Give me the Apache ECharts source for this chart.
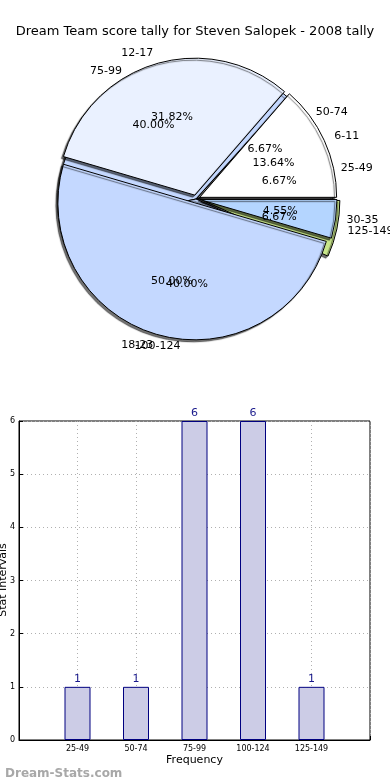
<!DOCTYPE html>
<html><head><meta charset="utf-8">
<script src="https://cdn.jsdelivr.net/npm/echarts@6/dist/echarts.min.js"></script>
<style>html,body{margin:0;padding:0;background:#fff}#c{width:390px;height:780px}</style>
</head><body><div id="c"></div>
<script>
const titleText = 'Dream Team score tally for Steven Salopek - 2008 tally';
const pieCatsA = ['6-11', '12-17', '18-23', '30-35'];
const pieValsA = [3, 7, 11, 1];
const pieCatsB = ['25-49', '50-74', '75-99', '100-124', '125-149'];
const pieValsB = [1, 1, 6, 6, 1];
const barCats = ['25-49', '50-74', '75-99', '100-124', '125-149'];
const barVals = [1, 1, 6, 6, 1];
const yTicks = [0, 1, 2, 3, 4, 5, 6];
const yName = 'Stat Intervals';
const xName = 'Frequency';

const colorsA = ['#ffffff', '#eaf1ff', '#c4d8ff', '#b4d5ff'];
const colorsB = ['#ffffff', '#ffffff', '#c4d8ff', '#c4d8ff', '#c8e68a'];
const FONT = 'DejaVu Sans';
const CX = 196, CY = 199, R = 137;

function pieData(cats, vals, colors, selIdx) {
  return cats.map((c, i) => ({
    name: c, value: vals[i], selected: selIdx.indexOf(i) >= 0,
    itemStyle: { color: colors[i] }
  }));
}
const shadow = { borderColor: '#000', borderWidth: 1, shadowColor: 'rgba(0,0,0,0.55)', shadowBlur: 1, shadowOffsetX: -2, shadowOffsetY: 2 };
function nameSeries(cats, vals, colors, sel, off) {
  return {
    type: 'pie', center: [CX, CY], radius: [0, R], startAngle: 0, clockwise: false,
    selectedMode: 'multiple', selectedOffset: off, avoidLabelOverlap: false, silent: true,
    data: pieData(cats, vals, colors, sel),
    itemStyle: shadow,
    label: { show: true, position: 'outside', formatter: '{b}', fontFamily: FONT, fontSize: 11, color: '#000', distanceToLabelLine: 0 },
    labelLine: { show: false, length: 11, length2: 0 },
    labelLayout: { hideOverlap: false },
    emphasis: { disabled: true }
  };
}
function pctSeries(cats, vals) {
  const total = vals.reduce((a, b) => a + b, 0);
  return {
    type: 'pie', center: [CX, CY], radius: [0, R * 1.2], startAngle: 0, clockwise: false,
    avoidLabelOverlap: false, silent: true,
    data: cats.map((c, i) => ({ name: c, value: vals[i] })),
    itemStyle: { color: 'rgba(0,0,0,0)', borderWidth: 0 },
    label: { show: true, position: 'inside', fontFamily: FONT, fontSize: 11, color: '#000',
      formatter: p => (p.value / total * 100).toFixed(2) + '%' },
    labelLine: { show: false },
    labelLayout: { hideOverlap: false },
    emphasis: { disabled: true }
  };
}

const chart = echarts.init(document.getElementById('c'), null, { renderer: 'canvas' });
chart.setOption({
  animation: false,
  backgroundColor: '#fff',
  title: [
    { text: titleText, left: 'center', top: 20, textStyle: { fontFamily: FONT, fontSize: 13, fontWeight: 'normal', color: '#000' } },
    { text: 'Dream-Stats.com', left: 0, top: 763, textStyle: { fontFamily: FONT, fontSize: 12, fontWeight: 'bold', color: '#a8a8a8' } }
  ],
  graphic: [{
    type: 'text', x: 3, y: 580, rotation: Math.PI / 2, silent: true,
    style: { text: yName, font: '11px "DejaVu Sans"', fill: '#000', align: 'center', verticalAlign: 'middle' }
  }],
  grid: { left: 19, right: 20, top: 421, bottom: 40, containLabel: false, outerBoundsMode: 'none',
    show: true, borderColor: '#000', borderWidth: 1, backgroundColor: 'transparent' },
  xAxis: {
    type: 'value', min: 0, max: 6, interval: 1,
    name: xName, nameLocation: 'middle', nameGap: 15, nameMoveOverlap: false,
    nameTextStyle: { fontFamily: FONT, fontSize: 11, color: '#000' },
    axisLine: { show: true, lineStyle: { color: '#000' } },
    axisTick: { show: true, inside: true, length: 4, lineStyle: { color: '#000' } },
    axisLabel: { fontFamily: FONT, fontSize: 8, color: '#000', margin: 5,
      formatter: v => (v >= 1 && v <= barCats.length) ? barCats[v - 1] : '' },
    splitLine: { show: true, lineStyle: { color: '#b0b0b0', type: [1, 3] } }
  },
  yAxis: {
    type: 'value', min: yTicks[0], max: yTicks[yTicks.length - 1], interval: 1,
    axisLine: { show: true, lineStyle: { color: '#000' } },
    axisTick: { show: true, inside: true, length: 4, lineStyle: { color: '#000' } },
    axisLabel: { fontFamily: FONT, fontSize: 8, color: '#000', margin: 4 },
    splitLine: { show: true, lineStyle: { color: '#b0b0b0', type: [1, 3] } }
  },
  series: [
    nameSeries(pieCatsB, pieValsB, colorsB, [4], 7),
    nameSeries(pieCatsA, pieValsA, colorsA, [0, 1, 2, 3], 4),
    pctSeries(pieCatsB, pieValsB),
    pctSeries(pieCatsA, pieValsA),
    {
      type: 'bar', barWidth: 26, z: 3,
      data: barCats.map((c, i) => [i + 1, barVals[i]]),
      itemStyle: { color: '#cccce6', borderColor: '#000080', borderWidth: 1 },
      label: { show: true, position: 'top', distance: 2, fontFamily: FONT, fontSize: 11, color: '#1a1a8c' },
      emphasis: { disabled: true }
    }
  ]
});
</script></body></html>
